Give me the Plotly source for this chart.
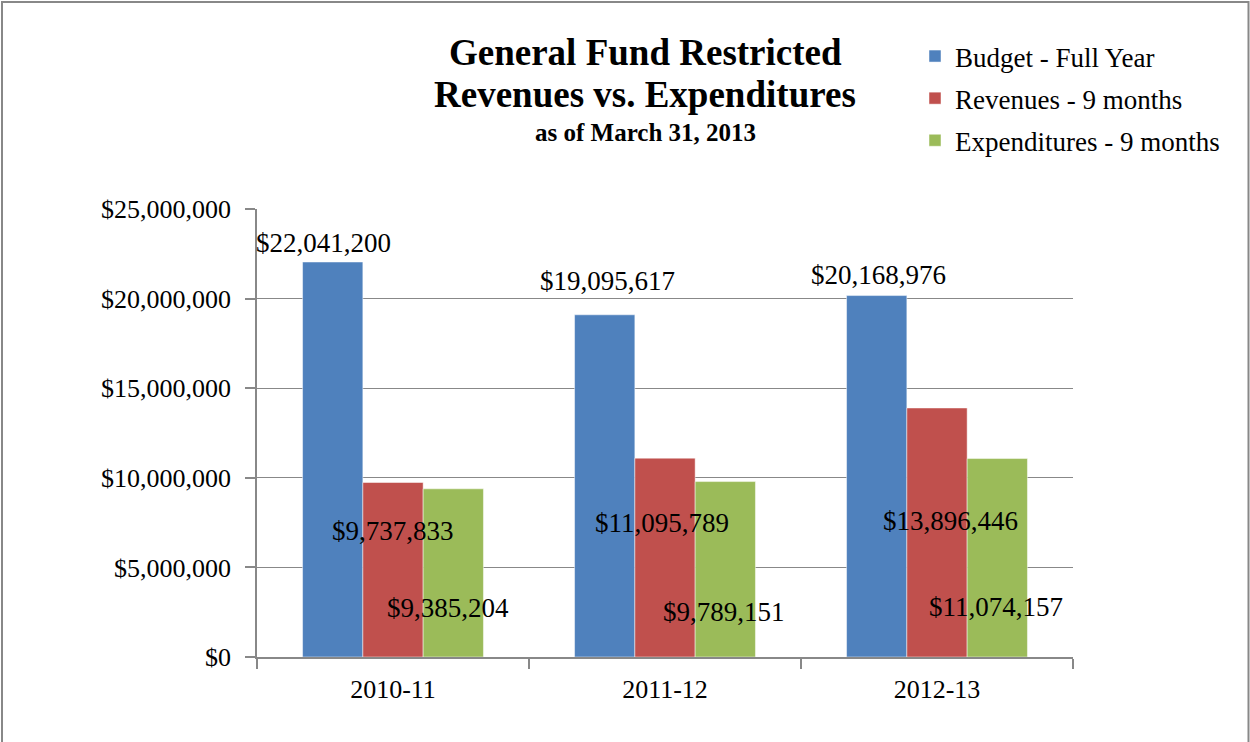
import plotly.graph_objects as go

categories = ["2010-11", "2011-12", "2012-13"]
budget = [22041200, 19095617, 20168976]
revenues = [9737833, 11095789, 13896446]
expenditures = [9385204, 9789151, 11074157]
y_ticks = [0, 5000000, 10000000, 15000000, 20000000, 25000000]
y_tick_text = ["$0", "$5,000,000", "$10,000,000", "$15,000,000", "$20,000,000", "$25,000,000"]

series = [
    ("Budget - Full Year", budget, "#4F81BD"),
    ("Revenues - 9 months", revenues, "#C0504D"),
    ("Expenditures - 9 months", expenditures, "#9BBB59"),
]

# label pixel offsets (dx from bar centre, dy from bar top) per series / category
label_offsets = [
    [(-10, 19), (2, 34), (1, 21)],
    [(0, -48), (-3, -65), (13, -113)],
    [(-5, -119), (-1, -130), (-1, -148)],
]
bar_px = 60

FONT = "Liberation Serif"
fig = go.Figure()
annotations = []
for si, (name, vals, color) in enumerate(series):
    fig.add_trace(go.Bar(
        x=categories, y=vals, name=name, legendgroup=name,
        marker=dict(color=color, line=dict(color="rgba(255,255,255,0.6)", width=0.8)),
    ))
    for ci, (cat, v) in enumerate(zip(categories, vals)):
        dx, dy = label_offsets[si][ci]
        annotations.append(dict(
            x=cat, y=v, xref="x", yref="y", text="$" + format(v, ","),
            showarrow=False, xshift=(si - 1) * bar_px + dx, yshift=dy,
            font=dict(family=FONT, size=27, color="black"),
            xanchor="center", yanchor="middle",
        ))

annotations += [
    dict(x=645, y=52, text="<b>General Fund Restricted</b>", font=dict(family=FONT, size=37, color="black")),
    dict(x=645, y=95, text="<b>Revenues vs. Expenditures</b>", font=dict(family=FONT, size=37, color="black")),
    dict(x=645, y=133, text="<b>as of March 31, 2013</b>", font=dict(family=FONT, size=25, color="black")),
]
L, R, T, B = 257, 177, 209, 85
PW, PH = 1250 - L - R, 742 - T - B
for a in annotations[-3:]:
    a.update(xref="paper", yref="paper", showarrow=False, xanchor="center", yanchor="middle")
    a["x"] = (a["x"] - L) / PW
    a["y"] = (742 - B - a["y"]) / PH

fig.update_layout(
    width=1250, height=742,
    margin=dict(l=L, r=R, t=T, b=B),
    paper_bgcolor="white", plot_bgcolor="white",
    barmode="group", bargap=0.335, bargroupgap=0,
    font=dict(family=FONT, size=26, color="black"),
    annotations=annotations,
    showlegend=True,
    legend=dict(
        x=(915 - L) / PW, y=(742 - B - 32) / PH, xanchor="left", yanchor="top",
        font=dict(family=FONT, size=27, color="black"),
        traceorder="grouped", tracegroupgap=4, bgcolor="rgba(0,0,0,0)",
    ),
    shapes=[dict(
        type="rect", xref="paper", yref="paper",
        x0=(2 - L) / PW, x1=(1248.5 - L) / PW,
        y0=(742 - B - 760) / PH, y1=(742 - B - 2) / PH,
        line=dict(color="#888888", width=2), fillcolor="rgba(0,0,0,0)", layer="below",
    )],
)
fig.update_xaxes(
    type="category", range=[-0.5, 2.5],
    showline=True, linecolor="#888888", linewidth=1.5,
    ticks="outside", tickson="boundaries", ticklen=10, tickcolor="#888888", tickwidth=1.5,
    showgrid=False, ticklabelstandoff=8, tickfont=dict(family=FONT, size=26, color="black"),
)
fig.update_yaxes(
    range=[0, 25000000], tickvals=y_ticks, ticktext=y_tick_text,
    showline=True, linecolor="#888888", linewidth=1.5,
    ticks="outside", ticklen=10, tickcolor="#888888", tickwidth=1.5,
    showgrid=True, gridcolor="#888888", gridwidth=1.2, zeroline=False,
    ticklabelstandoff=9,
    tickfont=dict(family=FONT, size=26, color="black"),
)

fig.write_html(
    "out.html",
    config={"displayModeBar": False},
    post_script="document.body.style.margin='0px';document.body.style.overflow='hidden';",
)
